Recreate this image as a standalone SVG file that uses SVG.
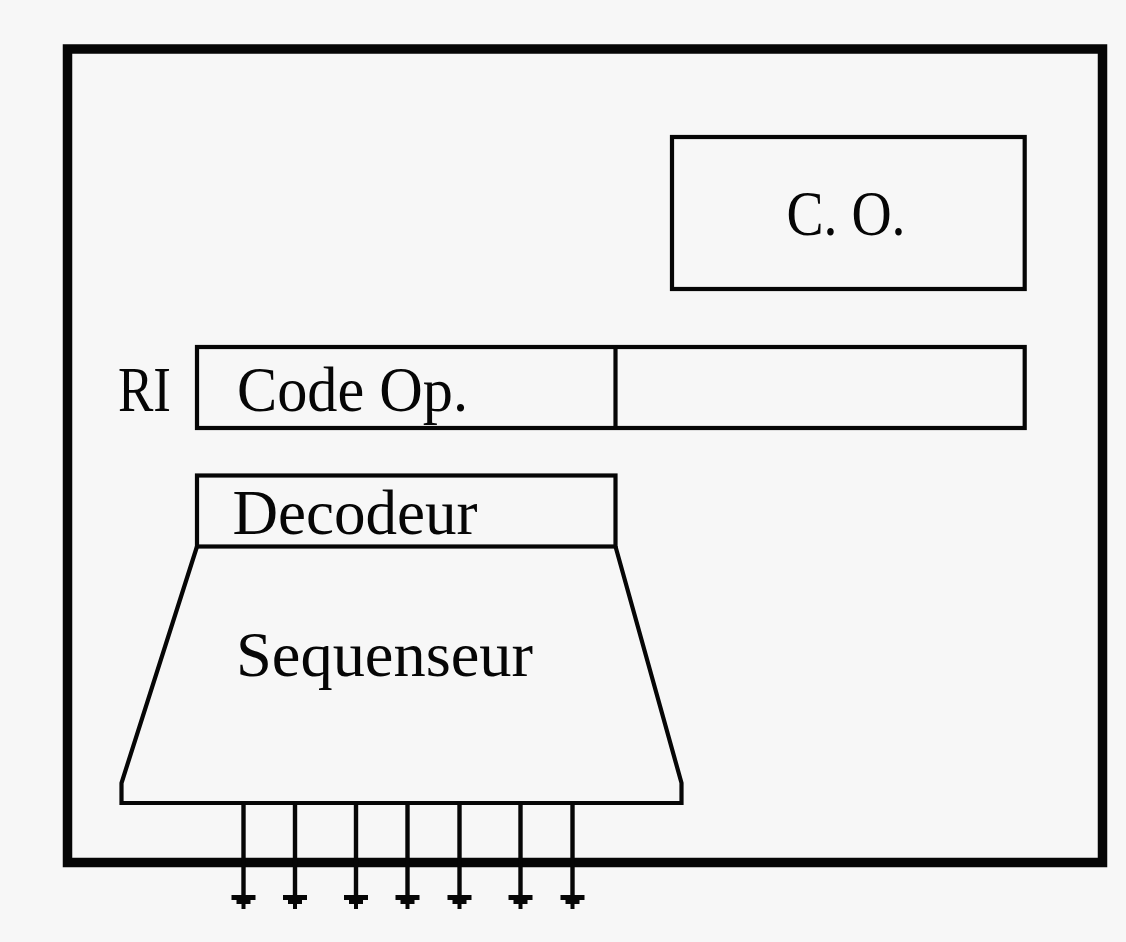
<svg xmlns="http://www.w3.org/2000/svg" width="1126" height="942" viewBox="0 0 1126 942">
  <style>
    .frame { fill: none; stroke: #060606; stroke-width: 9.5; }
    .box { fill: none; stroke: #060606; stroke-width: 4.2; }
    .wire { fill: none; stroke: #060606; stroke-width: 4.4; }
    .lbl { font-family: "Liberation Serif", "Times New Roman", serif; font-size: 64px; fill: #060606; }
  </style>
  <defs>
    <!-- stepped arrowhead, tip at (0,0) -->
    <path id="head" d="M-12,-14 h24 v5 h-5 v4 h-5 v5 h-4 v-5 h-5 v-4 h-5 z" fill="#060606"/>
  </defs>
  <rect width="1126" height="942" fill="#f7f7f7"/>

  <!-- processor outline -->
  <g id="cpu">
    <rect class="frame" x="67.5" y="49" width="1035" height="813.5"/>
  </g>

  <!-- program counter -->
  <g id="co">
    <rect class="box" x="672" y="137" width="352.7" height="152"/>
    <text class="lbl" x="786.5" y="235" textLength="119" lengthAdjust="spacingAndGlyphs">C. O.</text>
  </g>

  <!-- instruction register -->
  <g id="ri">
    <text class="lbl" x="118" y="411" textLength="53" lengthAdjust="spacingAndGlyphs">RI</text>
    <rect class="box" x="197" y="347" width="827.7" height="81"/>
    <line class="box" x1="615.5" y1="347" x2="615.5" y2="428"/>
    <text class="lbl" x="237" y="411" textLength="231" lengthAdjust="spacingAndGlyphs">Code Op.</text>
  </g>

  <!-- decoder -->
  <g id="decodeur">
    <rect class="box" x="197" y="475.5" width="418.5" height="71"/>
    <text class="lbl" x="232.5" y="534" textLength="245" lengthAdjust="spacingAndGlyphs">Decodeur</text>
  </g>

  <!-- sequencer -->
  <g id="sequenseur">
    <path class="box" d="M197,546.5 L121.5,783 L121.5,803 L681.5,803 L681.5,783 L615.5,546.5"/>
    <text class="lbl" x="236" y="676" textLength="297" lengthAdjust="spacingAndGlyphs">Sequenseur</text>
  </g>

  <!-- control signal outputs -->
  <g id="connectors">
    <g class="wire">
      <line x1="243.5" y1="805" x2="243.5" y2="900"/>
      <line x1="295" y1="805" x2="295" y2="900"/>
      <line x1="356" y1="805" x2="356" y2="900"/>
      <line x1="407.5" y1="805" x2="407.5" y2="900"/>
      <line x1="459.5" y1="805" x2="459.5" y2="900"/>
      <line x1="520.5" y1="805" x2="520.5" y2="900"/>
      <line x1="572.5" y1="805" x2="572.5" y2="900"/>
    </g>
    <use href="#head" x="243.5" y="909"/>
    <use href="#head" x="295" y="909"/>
    <use href="#head" x="356" y="909"/>
    <use href="#head" x="407.5" y="909"/>
    <use href="#head" x="459.5" y="909"/>
    <use href="#head" x="520.5" y="909"/>
    <use href="#head" x="572.5" y="909"/>
  </g>
</svg>
